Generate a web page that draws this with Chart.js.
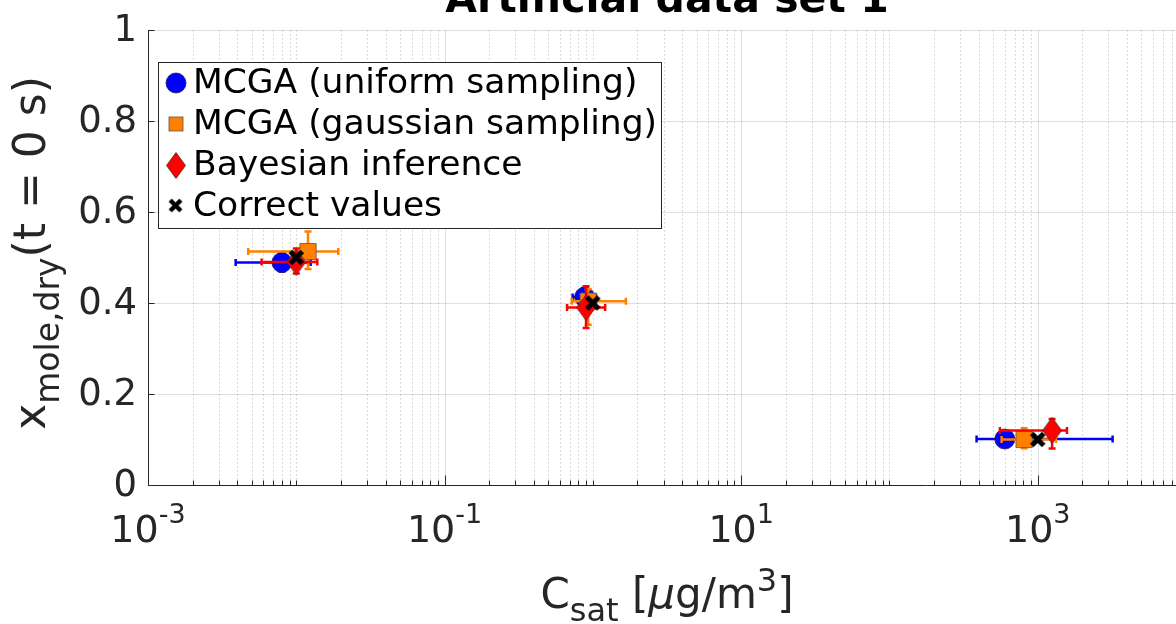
<!DOCTYPE html>
<html><head><meta charset="utf-8">
<script src="https://cdn.jsdelivr.net/npm/chart.js@4"></script>
<style>
html,body{margin:0;padding:0;overflow:hidden;background:#fff;width:1176px;height:624px}
#wrap{position:absolute;left:0;top:0;width:1200px;height:624px}
</style></head>
<body><div id="wrap"><canvas id="c" width="1200" height="624"></canvas></div>
<script>
// ---------- data ----------
const chartTitle = 'Artificial data set 1';
const seriesNames = ['MCGA (uniform sampling)', 'MCGA (gaussian sampling)', 'Bayesian inference', 'Correct values'];
const seriesColors = ['#0000ff', '#ff8000', '#ff0000', '#000000'];

const uniformX     = [0.0080, 0.88, 600];
const uniformY     = [0.489, 0.413, 0.101];
const uniformXLow  = [0.0039, 0.73, 387];
const uniformXHigh = [0.0125, 1.05, 3200];
const uniformYLow  = [0.469, 0.393, 0.096];
const uniformYHigh = [0.509, 0.433, 0.106];

const gaussX       = [0.0120, 0.93, 810];
const gaussY       = [0.513, 0.404, 0.100];
const gaussXLow    = [0.00474, 0.72, 571];
const gaussXHigh   = [0.0192, 1.67, 1327];
const gaussYLow    = [0.475, 0.352, 0.081];
const gaussYHigh   = [0.557, 0.43, 0.125];

const bayesX       = [0.0100, 0.90, 1250];
const bayesY       = [0.490, 0.390, 0.120];
const bayesXLow    = [0.00584, 0.67, 556];
const bayesXHigh   = [0.01386, 1.21, 1574];
const bayesYLow    = [0.465, 0.345, 0.080];
const bayesYHigh   = [0.520, 0.437, 0.145];

const correctX     = [0.01, 1, 1000];
const correctY     = [0.5, 0.4, 0.1];

const xTickExponents = [-3, -1, 1, 3];
const yTickValues = [0, 0.2, 0.4, 0.6, 0.8, 1];
const yTickLabels = ['0', '0.2', '0.4', '0.6', '0.8', '1'];
const xMin = 1e-3, xMax = 1e4, yMin = 0, yMax = 1;

// ---------- marker images ----------
function diamondImg(w, h, fill) {
  const c = document.createElement('canvas'); c.width = w; c.height = h;
  const g = c.getContext('2d');
  g.beginPath(); g.moveTo(w/2, 0.5); g.lineTo(w-0.5, h/2); g.lineTo(w/2, h-0.5); g.lineTo(0.5, h/2); g.closePath();
  g.fillStyle = fill; g.fill(); g.lineWidth = 0.8; g.strokeStyle = '#4a2a2a'; g.stroke();
  return c;
}
function crossImg(s, lw) {
  const c = document.createElement('canvas'); c.width = s; c.height = s;
  const g = c.getContext('2d');
  const p = lw/2 + 1;
  g.strokeStyle = '#000'; g.lineWidth = lw; g.lineCap = 'butt';
  g.beginPath(); g.moveTo(p, p); g.lineTo(s-p, s-p); g.moveTo(s-p, p); g.lineTo(p, s-p); g.stroke();
  return c;
}
const diamondMarker = diamondImg(20, 27, '#ff0000');
const crossMarker = crossImg(19, 5);

function pts(xs, ys) { return xs.map((x, i) => ({x: x, y: ys[i]})); }

const errSets = [
  {xl: uniformXLow, xh: uniformXHigh, yl: uniformYLow, yh: uniformYHigh, xs: uniformX, ys: uniformY, color: seriesColors[0]},
  {xl: gaussXLow, xh: gaussXHigh, yl: gaussYLow, yh: gaussYHigh, xs: gaussX, ys: gaussY, color: seriesColors[1]},
  {xl: bayesXLow, xh: bayesXHigh, yl: bayesYLow, yh: bayesYHigh, xs: bayesX, ys: bayesY, color: seriesColors[2]},
  null
];

const TXT = '#262626';
const FONT = '"DejaVu Sans", sans-serif';

const errorBarPlugin = {
  id: 'errbars',
  beforeDatasetDraw(chart, args) {
    const e = errSets[args.index];
    if (!e) return;
    const xs = chart.scales.x, ys = chart.scales.y, ctx = chart.ctx;
    const a = chart.chartArea;
    ctx.save();
    ctx.beginPath(); ctx.rect(a.left, a.top, a.right - a.left, a.bottom - a.top); ctx.clip();
    ctx.strokeStyle = e.color; ctx.lineWidth = 2.5; ctx.lineCap = 'butt';
    const cap = 3.5;
    for (let i = 0; i < e.xs.length; i++) {
      const px = xs.getPixelForValue(e.xs[i]), py = ys.getPixelForValue(e.ys[i]);
      const xl = xs.getPixelForValue(e.xl[i]), xh = xs.getPixelForValue(e.xh[i]);
      const yl = ys.getPixelForValue(e.yl[i]), yh = ys.getPixelForValue(e.yh[i]);
      ctx.beginPath();
      ctx.moveTo(xl, py); ctx.lineTo(xh, py);
      ctx.moveTo(xl, py - cap); ctx.lineTo(xl, py + cap);
      ctx.moveTo(xh, py - cap); ctx.lineTo(xh, py + cap);
      ctx.moveTo(px, yl); ctx.lineTo(px, yh);
      ctx.moveTo(px - cap, yl); ctx.lineTo(px + cap, yl);
      ctx.moveTo(px - cap, yh); ctx.lineTo(px + cap, yh);
      ctx.stroke();
    }
    ctx.restore();
  }
};

function minorXValues() {
  const out = [];
  for (let e = Math.log10(xMin); e < Math.log10(xMax); e++) {
    for (let m = 1; m <= 9; m++) {
      const v = m * Math.pow(10, e);
      if (m === 1 && xTickExponents.includes(e)) continue;
      out.push(v);
    }
  }
  return out;
}

const decorPlugin = {
  id: 'decor',
  beforeDatasetsDraw(chart) {
    const ctx = chart.ctx, a = chart.chartArea, xs = chart.scales.x, ys = chart.scales.y;
    ctx.save();
    ctx.strokeStyle = 'rgba(38,38,38,0.22)'; ctx.lineWidth = 1; ctx.setLineDash([1.5, 2.5]);
    minorXValues().forEach(v => {
      const x = Math.round(xs.getPixelForValue(v)) + 0.5;
      ctx.beginPath(); ctx.moveTo(x, a.top); ctx.lineTo(x, a.bottom); ctx.stroke();
    });
    ctx.setLineDash([]);
    ctx.strokeStyle = 'rgba(38,38,38,0.15)';
    xTickExponents.forEach(e => {
      const x = Math.round(xs.getPixelForValue(Math.pow(10, e))) + 0.5;
      ctx.beginPath(); ctx.moveTo(x, a.top); ctx.lineTo(x, a.bottom); ctx.stroke();
    });
    yTickValues.forEach(v => {
      const y = Math.round(ys.getPixelForValue(v)) + 0.5;
      ctx.beginPath(); ctx.moveTo(a.left, y); ctx.lineTo(a.right, y); ctx.stroke();
    });
    ctx.restore();
  },
  afterDatasetsDraw(chart) {
    const ctx = chart.ctx, a = chart.chartArea, xs = chart.scales.x, ys = chart.scales.y;
    ctx.save();
    ctx.strokeStyle = TXT; ctx.lineWidth = 1;
    const L = Math.round(a.left) + 0.5, B = Math.round(a.bottom) + 0.5;
    ctx.beginPath(); ctx.moveTo(L, a.top); ctx.lineTo(L, B); ctx.lineTo(a.right, B); ctx.stroke();
    minorXValues().forEach(v => {
      const x = Math.round(xs.getPixelForValue(v)) + 0.5;
      ctx.beginPath(); ctx.moveTo(x, B); ctx.lineTo(x, B - 5); ctx.stroke();
    });
    xTickExponents.forEach(e => {
      const x = Math.round(xs.getPixelForValue(Math.pow(10, e))) + 0.5;
      ctx.beginPath(); ctx.moveTo(x, B); ctx.lineTo(x, B - 10); ctx.stroke();
    });
    yTickValues.forEach(v => {
      const y = Math.round(ys.getPixelForValue(v)) + 0.5;
      ctx.beginPath(); ctx.moveTo(L, y); ctx.lineTo(L + 6, y); ctx.stroke();
    });
    ctx.fillStyle = TXT; ctx.font = '37px ' + FONT; ctx.textAlign = 'right'; ctx.textBaseline = 'middle';
    yTickValues.forEach((v, i) => {
      ctx.fillText(yTickLabels[i], a.left - 11, ys.getPixelForValue(v) + 1);
    });
    ctx.textBaseline = 'alphabetic'; ctx.textAlign = 'left';
    xTickExponents.forEach(e => {
      const x = xs.getPixelForValue(Math.pow(10, e));
      ctx.font = '38px ' + FONT; const w1 = ctx.measureText('10').width;
      ctx.font = '27px ' + FONT; const sup = String(e); const w2 = ctx.measureText(sup).width;
      const x0 = x - (w1 + w2) / 2;
      ctx.font = '38px ' + FONT; ctx.fillText('10', x0, a.bottom + 57);
      ctx.font = '27px ' + FONT; ctx.fillText(sup, x0 + w1, a.bottom + 38);
    });
    {
      const parts = [
        {t: 'C', f: '42px ' + FONT, dy: 0},
        {t: 'sat', f: '32px ' + FONT, dy: 13},
        {t: ' [', f: '42px ' + FONT, dy: 0},
        {t: 'μ', f: 'italic 42px ' + FONT, dy: 0},
        {t: 'g/m', f: '42px ' + FONT, dy: 0},
        {t: '3', f: '32px ' + FONT, dy: -17},
        {t: ']', f: '42px ' + FONT, dy: 0}
      ];
      let tw = 0; parts.forEach(p => { ctx.font = p.f; p.w = ctx.measureText(p.t).width; tw += p.w; });
      let x = (a.left + a.right) / 2 - tw / 2; const by = 608;
      parts.forEach(p => { ctx.font = p.f; ctx.fillText(p.t, x, by + p.dy); x += p.w; });
    }
    {
      const parts = [
        {t: 'x', f: '44px ' + FONT, dy: 0},
        {t: 'mole,dry', f: '33px ' + FONT, dy: 14},
        {t: '(t = 0 s)', f: '44px ' + FONT, dy: 0}
      ];
      let tw = 0; parts.forEach(p => { ctx.font = p.f; p.w = ctx.measureText(p.t).width; tw += p.w; });
      ctx.save();
      ctx.translate(45, 253);
      ctx.rotate(-Math.PI / 2);
      let x = -tw / 2;
      parts.forEach(p => { ctx.font = p.f; ctx.fillText(p.t, x, p.dy); x += p.w; });
      ctx.restore();
    }
    ctx.font = 'bold 41px ' + FONT; ctx.textAlign = 'center';
    ctx.fillStyle = '#000';
    ctx.fillText(chartTitle, (a.left + a.right) / 2, 12);
    {
      const bx = 158.5, by = 62.5, bw = 503, bh = 166;
      ctx.fillStyle = '#fff'; ctx.fillRect(bx, by, bw, bh);
      ctx.strokeStyle = TXT; ctx.lineWidth = 1; ctx.strokeRect(bx, by, bw, bh);
      ctx.font = '34.5px ' + FONT; ctx.fillStyle = '#000'; ctx.textAlign = 'left'; ctx.textBaseline = 'middle';
      const rows = [83, 124, 165, 206];
      const mx = 176;
      seriesNames.forEach((n, i) => {
        const y = rows[i];
        ctx.fillText(n, 193, y + 1);
        ctx.save();
        if (i === 0) {
          ctx.beginPath(); ctx.arc(mx, y, 10, 0, Math.PI * 2); ctx.fillStyle = seriesColors[0]; ctx.fill();
          ctx.lineWidth = 0.8; ctx.strokeStyle = '#1a1a4a'; ctx.stroke();
        } else if (i === 1) {
          ctx.fillStyle = seriesColors[1]; ctx.fillRect(mx - 7, y - 7, 14, 14);
          ctx.lineWidth = 0.8; ctx.strokeStyle = '#555'; ctx.strokeRect(mx - 7, y - 7, 14, 14);
        } else if (i === 2) {
          ctx.drawImage(diamondMarker, mx - 10, y - 13);
        } else {
          ctx.drawImage(crossMarker, mx - 9, y - 9, 17, 17);
        }
        ctx.restore();
      });
    }
    ctx.restore();
  }
};

new Chart(document.getElementById('c'), {
  type: 'scatter',
  data: {
    datasets: [
      {label: seriesNames[0], data: pts(uniformX, uniformY), order: 4, pointStyle: 'circle', pointRadius: 10,
       backgroundColor: seriesColors[0], borderColor: '#1a1a4a', borderWidth: 0.8},
      {label: seriesNames[1], data: pts(gaussX, gaussY), order: 3, pointStyle: 'rect', pointRadius: 11.5,
       backgroundColor: seriesColors[1], borderColor: '#555', borderWidth: 0.8},
      {label: seriesNames[2], data: pts(bayesX, bayesY), order: 2, pointStyle: diamondMarker, pointRadius: 12,
       backgroundColor: seriesColors[2], borderColor: '#4a2a2a'},
      {label: seriesNames[3], data: pts(correctX, correctY), order: 1, pointStyle: crossMarker, pointRadius: 10,
       backgroundColor: '#000', borderColor: '#000'}
    ]
  },
  options: {
    responsive: false, animation: false, devicePixelRatio: 1,
    layout: {padding: {top: 30, right: 14, left: 0, bottom: 0}},
    plugins: {legend: {display: false}, title: {display: false}, tooltip: {enabled: false}},
    scales: {
      x: {type: 'logarithmic', min: xMin, max: xMax, grid: {display: false}, border: {display: false},
          ticks: {display: false}, afterFit: s => { s.height = 624 - 485; }},
      y: {type: 'linear', min: yMin, max: yMax, grid: {display: false}, border: {display: false},
          ticks: {display: false, stepSize: 0.2}, afterFit: s => { s.width = 148; }}
    }
  },
  plugins: [errorBarPlugin, decorPlugin]
});
</script>
</body></html>
